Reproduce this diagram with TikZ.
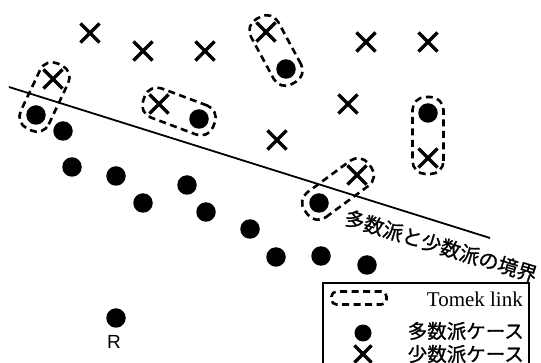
\documentclass[tikz,border=0pt]{standalone}
\usepackage{fontspec}
\setmainfont{Liberation Serif}
\newfontfamily\jpfont[FakeBold=1]{Noto Sans CJK JP}
\newfontfamily\rfont{Liberation Sans}
\usetikzlibrary{shapes.misc,calc}

% dashed stadium round a pair of cases
\newcommand{\tomeklink}[2]{%
  \path let \p1 = ($(#2)-(#1)$) in
    node[tomek, rotate={atan2(\y1,\x1)},
      minimum width={veclen(\x1,\y1)+32pt}] at ($(#1)!0.5!(#2)$) {};}

\begin{document}
\begin{tikzpicture}[x=1pt, y=-1pt,
  majority/.style={circle, fill, inner sep=0pt, minimum size=19.5pt},
  minority/.style={cross out, draw, line width=3.2pt, inner sep=0pt, minimum size=16pt},
  tomek/.style={draw, dash pattern=on 7pt off 4.5pt, line width=2.6pt,
    rounded corners=13pt, minimum height=31pt, inner sep=0pt},
  jp/.style={font=\jpfont\fontsize{20}{20}\selectfont, inner sep=0pt}]
  \useasboundingbox (0,0) rectangle (541,363);

  % Minority cases
  \node[minority] (x1) at (90,33) {};
  \node[minority] (x2) at (143,51) {};
  \node[minority] (x3) at (205,51) {};
  \node[minority] (x4) at (266,32) {};
  \node[minority] (x5) at (366,42) {};
  \node[minority] (x6) at (428,42) {};
  \node[minority] (x7) at (53,79) {};
  \node[minority] (x8) at (159,104) {};
  \node[minority] (x9) at (348,104) {};
  \node[minority] (x10) at (277,140) {};
  \node[minority] (x11) at (428,158) {};
  \node[minority] (x12) at (357,175) {};

  % Majority cases
  \node[majority] (o1) at (36,115) {};
  \node[majority] (o2) at (63,131) {};
  \node[majority] (o3) at (72,167) {};
  \node[majority] (o4) at (116,176) {};
  \node[majority] (o5) at (187,185) {};
  \node[majority] (o6) at (143,203) {};
  \node[majority] (o7) at (206,212) {};
  \node[majority] (o8) at (250,229) {};
  \node[majority] (o9) at (276,257) {};
  \node[majority] (o10) at (321,256) {};
  \node[majority] (o11) at (367,265) {};
  \node[majority] (o12) at (286,69) {};
  \node[majority] (o13) at (199,119) {};
  \node[majority] (o14) at (428,113) {};
  \node[majority] (o15) at (319,203) {};
  \node[majority] (r) at (116,318) {};
  \node[font=\rfont\fontsize{19}{19}\selectfont, inner sep=0pt] (rlabel) at (114,342) {R};

  % Tomek links
  \tomeklink{x7}{o1}
  \tomeklink{x4}{o12}
  \tomeklink{x8}{o13}
  \tomeklink{o14}{x11}
  \tomeklink{x12}{o15}

  % Class boundary
  \coordinate (b1) at (9,87);
  \coordinate (b2) at (490,238);
  \draw[line width=1.8pt] (b1) -- (b2);
  \node[jp, rotate=-17] (blabel) at (441,246) {多数派と少数派の境界};

  % Legend
  \draw[line width=1.2pt] (323,363) |- (529,283) -- (529,363);
  \node[draw, dash pattern=on 7pt off 4.5pt, line width=2.6pt, rounded corners=5pt,
    minimum width=55pt, minimum height=13pt, inner sep=0pt] (ltomek) at (359,298) {};
  \node[anchor=east, font=\fontsize{21}{21}\selectfont, inner sep=0pt] (ltext1) at (523,299) {Tomek link};
  \node[majority, minimum size=17pt] (lmaj) at (363,333) {};
  \node[jp, anchor=east, font=\jpfont\fontsize{19.5}{19.5}\selectfont] (ltext2) at (524,331) {多数派ケース};
  \node[minority, minimum size=14pt] (lmin) at (363,354) {};
  \node[jp, anchor=east, font=\jpfont\fontsize{19.5}{19.5}\selectfont] (ltext3) at (524,354) {少数派ケース};
\end{tikzpicture}
\end{document}
